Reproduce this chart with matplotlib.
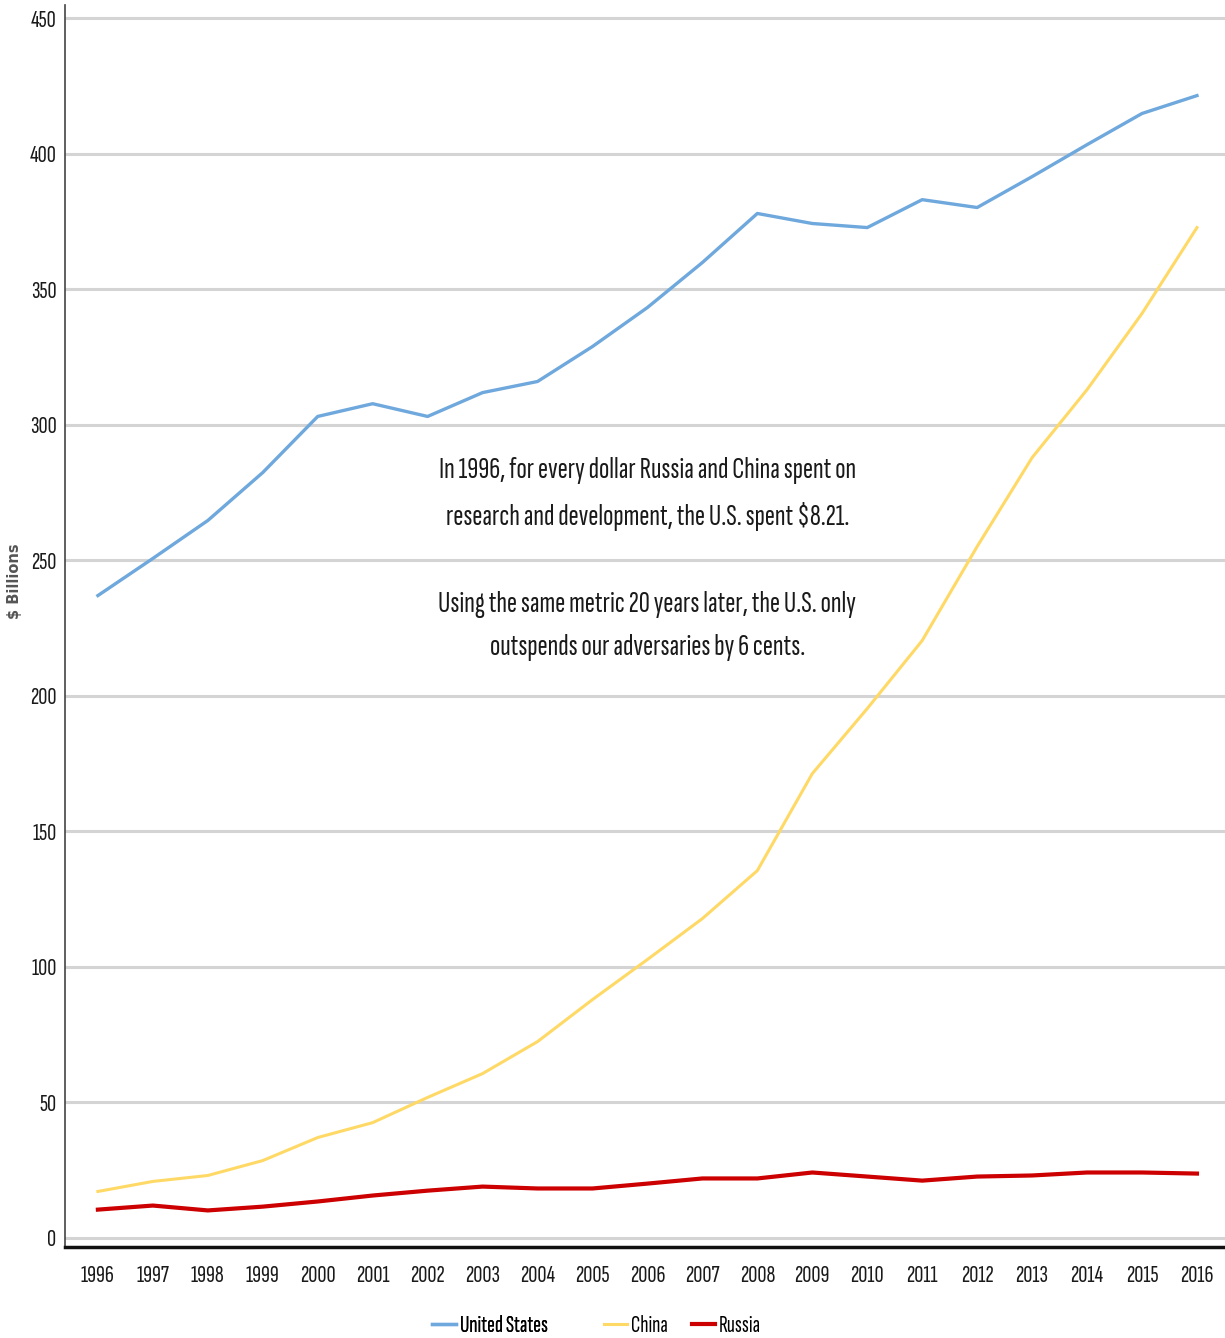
import matplotlib
matplotlib.use("Agg")
import matplotlib.pyplot as plt
from matplotlib.lines import Line2D

years = list(range(1996, 2017))
united_states = [236.9, 250.6, 264.6, 282.3, 303.0, 307.7, 303.0, 311.8, 315.9, 328.8,
                 343.2, 359.8, 377.9, 374.2, 372.7, 383.0, 380.1, 391.5, 403.3, 414.8, 421.4]
china = [17.0, 20.7, 22.9, 28.4, 36.9, 42.4, 51.7, 60.5, 72.3, 87.8,
         102.6, 117.7, 135.4, 171.2, 195.2, 220.3, 255.0, 287.8, 312.9, 341.0, 372.7]
russia = [10.3, 11.8, 10.0, 11.4, 13.3, 15.5, 17.3, 18.8, 18.1, 18.1,
          19.9, 21.8, 21.8, 24.0, 22.5, 21.0, 22.5, 22.9, 24.0, 24.0, 23.6]
y_ticks = [0, 50, 100, 150, 200, 250, 300, 350, 400, 450]
y_tick_labels = ["0", "50", "100", "150", "200", "250", "300", "350", "400", "450"]
annotation_lines = ["In 1996, for every dollar Russia and China spent on",
                    "research and development, the U.S. spent $8.21.",
                    "",
                    "Using the same metric 20 years later, the U.S. only",
                    "outspends our adversaries by 6 cents."]

FONT = ["Sofia Sans Extra Condensed", "Roboto Condensed", "DejaVu Sans"]
plt.rcParams["font.family"] = FONT

fig = plt.figure(figsize=(12.25, 13.38), dpi=100)
ax = fig.add_axes([0.053, 0.068, 0.947, 0.9286])

c_us, c_cn, c_ru = "#6fa8dc", "#ffd966", "#cc0000"
ax.plot(years, united_states, color=c_us, lw=2.4, zorder=3, label="United States")
ax.plot(years, china, color=c_cn, lw=2.2, zorder=3, label="China")
ax.plot(years, russia, color=c_ru, lw=3.0, zorder=3, label="Russia")

ax.set_xlim(1995.4, 2016.51)
ax.set_ylim(-3.5, 455)
ax.set_xticks(years)
ax.set_xticklabels([str(y) for y in years], fontsize=18, color="#1a1a1a", fontweight="bold")
ax.set_yticks(y_ticks)
ax.set_yticklabels(y_tick_labels, fontsize=18, color="#1a1a1a", fontweight="bold")
ax.tick_params(axis="both", length=0)
ax.tick_params(axis="x", pad=13)
ax.tick_params(axis="y", pad=6)
ax.grid(axis="y", color="#d4d4d4", lw=2.2, zorder=1)
ax.grid(axis="x", visible=False)

for s in ["top", "right"]:
    ax.spines[s].set_visible(False)
ax.spines["left"].set_color("#444444")
ax.spines["left"].set_linewidth(1.2)
ax.spines["bottom"].set_color("#111111")
ax.spines["bottom"].set_linewidth(2.5)

ax.text(2006.0, 288, "\n".join(annotation_lines), ha="center", va="top", fontsize=22,
        color="#1a1a1a", linespacing=1.78, zorder=4, fontweight="medium")

fig.text(0.012, 0.566, "$ Billions", rotation=90, ha="center", va="center",
         fontsize=10.5, color="#555555", fontweight="bold", family="DejaVu Sans")

h_us = Line2D([], [], color=c_us, lw=2.4)
h_cn = Line2D([], [], color=c_cn, lw=2.2)
h_ru = Line2D([], [], color=c_ru, lw=3.0)
leg1 = fig.legend([h_us], ["United States"], loc="center", bbox_to_anchor=(0.400, 0.009),
                  frameon=False, prop={"size": 17, "weight": "bold"},
                  handlelength=1.0, handletextpad=0.15)
leg2 = fig.legend([h_cn, h_ru], ["China", "Russia"], loc="center", ncol=2,
                  bbox_to_anchor=(0.557, 0.009), frameon=False,
                  prop={"size": 17, "weight": "bold"},
                  handlelength=1.0, handletextpad=0.15, columnspacing=1.0)
fig.add_artist(leg1)

fig.savefig("out.png", dpi=100, facecolor="white")
